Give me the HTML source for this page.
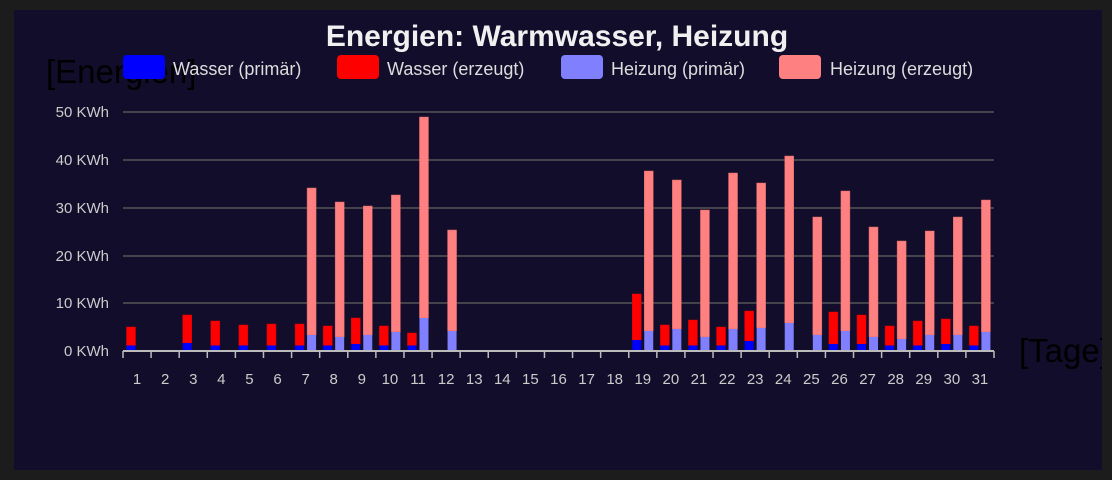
<!DOCTYPE html>
<html><head><meta charset="utf-8"><style>
html,body{margin:0;padding:0;background:#1b1b1b;width:1112px;height:480px;overflow:hidden}
svg{display:block}
text{font-family:"Liberation Sans",Arial,sans-serif}
</style></head><body>
<svg id="s" width="1112" height="480" xmlns="http://www.w3.org/2000/svg">
<defs><clipPath id="c"><rect x="14" y="10" width="1088" height="460"/></clipPath></defs>
<rect x="0" y="0" width="1112" height="480" fill="#1c1c1c"/>
<rect x="14" y="10" width="1088" height="460" fill="#110d2a"/>
<text x="557" y="46" text-anchor="middle" font-size="30" font-weight="bold" fill="#f0f0f0">Energien: Warmwasser, Heizung</text>
<text x="46" y="83" font-size="33" fill="#000">[Energien]</text>
<rect x="123" y="55" width="42" height="24" rx="4" fill="#0000ff"/>
<text x="173" y="75" font-size="18" fill="#ddd">Wasser (primär)</text>
<rect x="337" y="55" width="42" height="24" rx="4" fill="#ff0000"/>
<text x="387" y="75" font-size="18" fill="#ddd">Wasser (erzeugt)</text>
<rect x="561" y="55" width="42" height="24" rx="4" fill="#8080ff"/>
<text x="611" y="75" font-size="18" fill="#ddd">Heizung (primär)</text>
<rect x="779" y="55" width="42" height="24" rx="4" fill="#ff8080"/>
<text x="830" y="75" font-size="18" fill="#ddd">Heizung (erzeugt)</text>
<g id="g"></g>
<text x="1019" y="362" font-size="33" fill="#000" clip-path="url(#c)">[Tage]</text>
</svg>
<script>
var g=document.getElementById('g'),h='';
var ys=[[351,'0 KWh'],[303,'10 KWh'],[256,'20 KWh'],[208,'30 KWh'],[160,'40 KWh'],[112,'50 KWh']];
ys.forEach(function(a,i){if(i>0)h+='<line x1="123" x2="994" y1="'+a[0]+'" y2="'+a[0]+'" stroke="#555" stroke-width="1.5"/>';
h+='<text x="109" y="'+(a[0]+5)+'" text-anchor="end" font-size="15" fill="#ccc">'+a[1]+'</text>';});
var wt={1:327,3:315,4:321,5:325,6:324,7:324,8:326,9:318,10:326,11:333,19:294,20:325,21:320,22:327,23:311,26:312,27:315,28:326,29:321,30:319,31:326};
var wp={3:343,19:340,23:341,9:344,26:344,27:344,30:344};
var ht={7:188,8:202,9:206,10:195,11:117,12:230,19:171,20:180,21:210,22:173,23:183,24:156,25:217,26:191,27:227,28:241,29:231,30:217,31:200};
var hp={7:335,8:337,9:335,10:332,11:318,12:331,19:331,20:329,21:337,22:329,23:328,24:323,25:335,26:331,27:337,28:339,29:335,30:335,31:332};
var cw=(994-123)/31;
for(var d=1;d<=31;d++){var x0=123+(d-1)*cw;
 if(wt[d]){var p=wp[d]||345.5;var x=x0+3.5;
  h+='<rect x="'+x+'" y="'+wt[d]+'" width="9" height="'+(p-wt[d])+'" fill="#ff0000" stroke="#d00" stroke-width="0.5"/>';
  h+='<rect x="'+x+'" y="'+p+'" width="9" height="'+(351-p)+'" fill="#0000ff"/>';}
 if(ht[d]){var x=x0+15.5;
  h+='<rect x="'+x+'" y="'+ht[d]+'" width="9" height="'+(hp[d]-ht[d])+'" fill="#ff8080" stroke="#d66" stroke-width="0.5"/>';
  h+='<rect x="'+x+'" y="'+hp[d]+'" width="9" height="'+(351-hp[d])+'" fill="#8080ff"/>';}
 h+='<text x="'+(x0+cw/2)+'" y="384" text-anchor="middle" font-size="15" fill="#ccc">'+d+'</text>';
}
h+='<line x1="123" x2="994" y1="351" y2="351" stroke="#bbb" stroke-width="2"/>';
for(var i=0;i<=31;i++){var x=123+i*cw;h+='<line x1="'+x+'" x2="'+x+'" y1="351" y2="358" stroke="#bbb" stroke-width="1.5"/>';}
g.innerHTML=h;
</script>
</body></html>
